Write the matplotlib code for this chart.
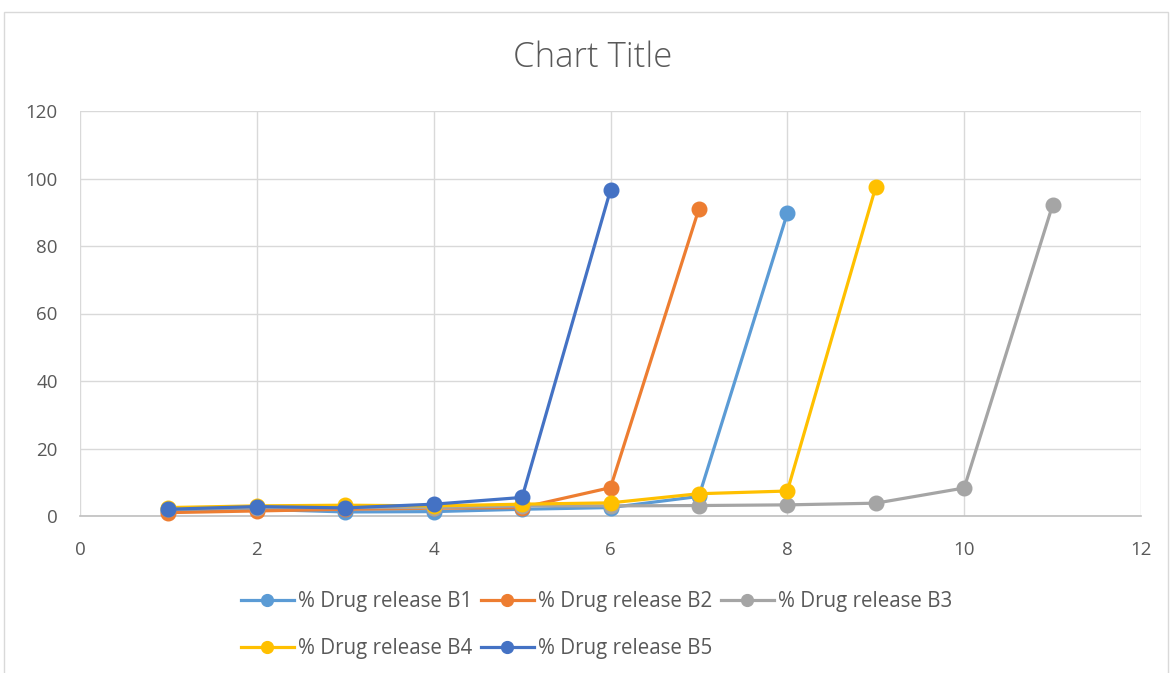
import matplotlib
matplotlib.use("Agg")
import matplotlib.pyplot as plt
from matplotlib.patches import Rectangle
from matplotlib.lines import Line2D

# Dissolution time points and % drug released per batch
x_b1 = [1, 2, 3, 4, 5, 6, 7, 8]
y_b1 = [1.5, 2.0, 1.2, 1.3, 2.0, 2.5, 5.8, 89.7]

x_b2 = [1, 2, 3, 4, 5, 6, 7]
y_b2 = [1.0, 1.5, 2.0, 2.3, 2.5, 8.4, 91.0]

x_b3 = [1, 2, 3, 4, 5, 6, 7, 8, 9, 10, 11]
y_b3 = [2.0, 2.5, 2.5, 2.5, 3.0, 3.0, 3.1, 3.3, 3.8, 8.3, 92.1]

x_b4 = [1, 2, 3, 4, 5, 6, 7, 8, 9]
y_b4 = [2.5, 3.0, 3.2, 3.0, 3.5, 3.9, 6.6, 7.4, 97.5]

x_b5 = [1, 2, 3, 4, 5, 6]
y_b5 = [2.0, 2.8, 2.4, 3.5, 5.5, 96.6]

labels = ["% Drug release B1", "% Drug release B2", "% Drug release B3",
          "% Drug release B4", "% Drug release B5"]
colors = ["#5B9BD5", "#ED7D31", "#A5A5A5", "#FFC000", "#4472C4"]

x_ticks = [0, 2, 4, 6, 8, 10, 12]
y_ticks = [0, 20, 40, 60, 80, 100, 120]

FONT = "Open Sans"
TEXT = "#595959"

W, H = 1170, 673
fig = plt.figure(figsize=(W / 100, H / 100), dpi=100)
fig.patches.append(Rectangle((4 / W, -0.01), 1164 / W, 1 - 12 / H + 0.01,
                             transform=fig.transFigure, fill=False,
                             edgecolor="#D9D9D9", linewidth=1.0))

ax = fig.add_axes([80 / W, 1 - 516 / H, (1141 - 80) / W, (516 - 111) / H])

series = [(x_b1, y_b1), (x_b2, y_b2), (x_b3, y_b3), (x_b4, y_b4), (x_b5, y_b5)]
for (xs, ys), lab, c in zip(series, labels, colors):
    ax.plot(xs, ys, color=c, linewidth=2.3, marker="o", markersize=10.5,
            label=lab, zorder=3, clip_on=False)

ax.set_xlim(0, 12)
ax.set_ylim(0, 120)
ax.set_xticks(x_ticks)
ax.set_yticks(y_ticks)
ax.grid(True, color="#D9D9D9", linewidth=1.0)
ax.set_axisbelow(True)
for s in ["top", "right", "left"]:
    ax.spines[s].set_visible(False)
ax.spines["bottom"].set_color("#BFBFBF")
ax.spines["bottom"].set_linewidth(1.2)
ax.tick_params(length=0, labelsize=13.5, labelcolor=TEXT)
ax.tick_params(axis="x", pad=18)
ax.tick_params(axis="y", pad=16)
for t in ax.get_xticklabels() + ax.get_yticklabels():
    t.set_fontfamily(FONT)

fig.text(593 / W, 1 - 58 / H, "Chart Title", ha="center", va="center",
         fontsize=25, color=TEXT, family=FONT, fontweight="light")

# legend entries laid out in rows: B1 B2 B3 / B4 B5
proxies = [Line2D([], [], color=c, linewidth=2.3, marker="o", markersize=8.5)
           for c in colors]
order = [0, 3, 1, 4, 2]
fig.legend([proxies[i] for i in order], [labels[i] for i in order],
           ncol=3, loc="upper left", bbox_to_anchor=(222 / W, 1 - 573 / H),
           frameon=False, handlelength=2.58, handletextpad=0.2,
           columnspacing=0.42, labelspacing=1.25,
           prop={"family": FONT, "size": 14.8}, labelcolor=TEXT)

fig.savefig("out.png", dpi=100)
